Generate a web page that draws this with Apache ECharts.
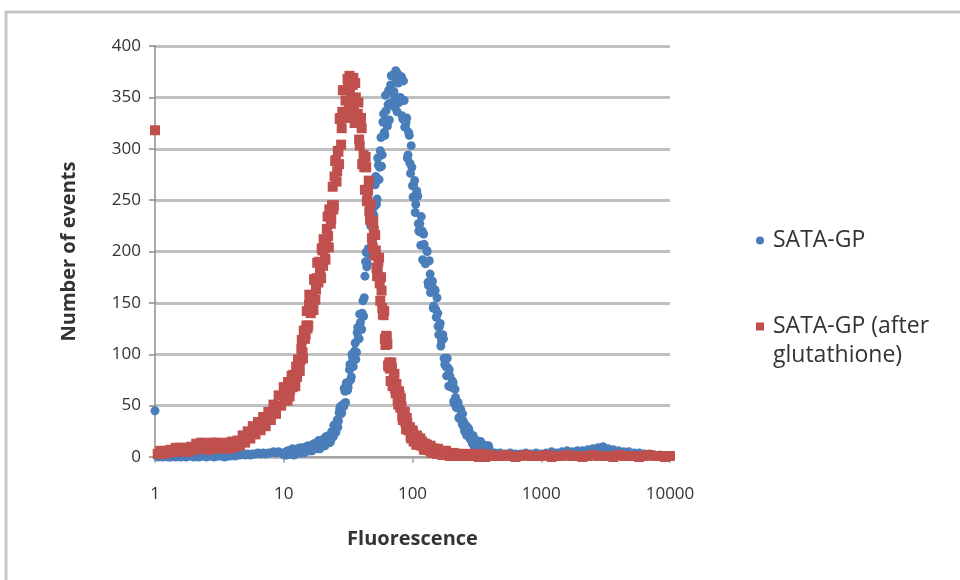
<!DOCTYPE html>
<html>
<head>
<meta charset="utf-8">
<script src="https://cdn.jsdelivr.net/npm/echarts@6/dist/echarts.min.js"></script>
<style>
html,body{margin:0;padding:0;background:#fff;}
#chart{width:960px;height:580px;}
</style>
</head>
<body>
<div id="chart"></div>
<script>
// Fluorescence channel values (x)
const fluorescence = [
  1, 1.05, 1.10, 1.15, 1.20, 1.26, 1.32, 1.38, 1.45, 1.51,
  1.58, 1.66, 1.74, 1.82, 1.91, 2.00, 2.09, 2.19, 2.29, 2.40,
  2.51, 2.63, 2.75, 2.88, 3.02, 3.16, 3.31, 3.47, 3.63, 3.80,
  3.98, 4.17, 4.37, 4.57, 4.79, 5.01, 5.25, 5.50, 5.75, 6.03,
  6.31, 6.61, 6.92, 7.24, 7.59, 7.94, 8.32, 8.71, 9.12, 9.55,
  10, 10.2, 10.5, 10.7, 11.0, 11.2, 11.5, 11.7, 12.0, 12.3,
  12.6, 12.9, 13.2, 13.5, 13.8, 14.1, 14.5, 14.8, 15.1, 15.5,
  15.8, 16.2, 16.6, 17.0, 17.4, 17.8, 18.2, 18.6, 19.1, 19.5,
  20.0, 20.4, 20.9, 21.4, 21.9, 22.4, 22.9, 23.4, 24.0, 24.5,
  25.1, 25.7, 26.3, 26.9, 27.5, 28.2, 28.8, 29.5, 30.2, 30.9,
  31.6, 32.4, 33.1, 33.9, 34.7, 35.5, 36.3, 37.2, 38.0, 38.9,
  39.8, 40.7, 41.7, 42.7, 43.7, 44.7, 45.7, 46.8, 47.9, 49.0,
  50.1, 51.3, 52.5, 53.7, 55.0, 56.2, 57.5, 58.9, 60.3, 61.7,
  63.1, 64.6, 66.1, 67.6, 69.2, 70.8, 72.4, 74.1, 75.9, 77.6,
  79.4, 81.3, 83.2, 85.1, 87.1, 89.1, 91.2, 93.3, 95.5, 97.7,
  100, 102, 105, 107, 110, 112, 115, 117, 120, 123,
  126, 129, 132, 135, 138, 141, 145, 148, 151, 155,
  158, 162, 166, 170, 174, 178, 182, 186, 191, 195,
  200, 204, 209, 214, 219, 224, 229, 234, 240, 245,
  251, 257, 263, 269, 275, 282, 288, 295, 302, 309,
  316, 324, 331, 339, 347, 355, 363, 372, 380, 389,
  398, 437, 479, 525, 575, 631, 692, 759, 832, 912,
  1000, 1096, 1202, 1318, 1445, 1585, 1738, 1905, 2089, 2291,
  2512, 2754, 3020, 3311, 3631, 3981, 4365, 4786, 5248, 5754,
  6310, 6918, 7586, 8318, 9120, 10000
];

// Number of events, SATA-GP
const sataGP = [
  45, 0, 1, 0, 1, 0, 0, 1, 0, 1,
  0, 1, 0, 1, 1, 0, 1, 0, 1, 1,
  0, 1, 1, 0, 1, 1, 1, 0, 1, 1,
  2, 1, 2, 2, 3, 2, 3, 2, 3, 3,
  4, 3, 4, 3, 4, 4, 5, 4, 5, 4,
  3, 4, 2, 5, 6, 3, 4, 8, 2, 6,
  4, 8, 4, 9, 4, 8, 4, 9, 7, 11,
  6, 9, 6, 12, 13, 9, 10, 16, 8, 14,
  12, 17, 11, 20, 14, 19, 14, 23, 20, 31,
  25, 31, 29, 43, 49, 43, 51, 67, 53, 71,
  68, 85, 75, 100, 88, 103, 95, 121, 116, 139,
  125, 140, 137, 176, 199, 188, 203, 232, 204, 237,
  235, 265, 246, 291, 270, 298, 283, 326, 316, 352,
  326, 343, 328, 362, 371, 342, 352, 376, 336, 364,
  346, 369, 332, 366, 321, 326, 291, 316, 286, 303,
  264, 264, 238, 256, 254, 220, 219, 234, 192, 207,
  188, 201, 170, 191, 160, 168, 145, 163, 144, 155,
  127, 127, 108, 118, 115, 90, 88, 96, 69, 79,
  68, 74, 54, 66, 48, 52, 38, 47, 36, 42,
  29, 29, 21, 27, 26, 17, 17, 21, 10, 15,
  11, 15, 8, 15, 7, 11, 5, 11, 7, 11,
  5, 4, 4, 3, 4, 3, 3, 4, 3, 4,
  3, 4, 5, 4, 5, 6, 5, 6, 6, 7,
  8, 9, 10, 8, 7, 6, 5, 5, 4, 4,
  3, 3, 2, 2, 1, 1
];

// Number of events, SATA-GP (after glutathione)
const sataGPGlutathione = [
  318, 3, 6, 3, 6, 4, 7, 5, 9, 5,
  9, 6, 9, 5, 10, 7, 13, 8, 14, 8,
  13, 7, 14, 9, 14, 8, 13, 9, 14, 8,
  15, 10, 16, 11, 21, 14, 25, 18, 30, 22,
  34, 26, 39, 30, 44, 36, 51, 42, 60, 50,
  68, 55, 65, 55, 71, 65, 79, 68, 75, 69,
  87, 95, 84, 94, 114, 96, 120, 119, 142, 128,
  158, 140, 157, 143, 172, 163, 189, 170, 183, 174,
  201, 212, 193, 207, 234, 204, 235, 232, 263, 245,
  288, 268, 298, 285, 330, 320, 357, 331, 347, 330,
  363, 371, 340, 348, 369, 325, 350, 328, 345, 303,
  330, 285, 294, 260, 282, 254, 269, 231, 230, 204,
  220, 216, 184, 183, 194, 152, 162, 139, 142, 109,
  117, 89, 92, 74, 87, 72, 81, 62, 63, 51,
  60, 57, 40, 39, 44, 27, 33, 26, 29, 18,
  26, 15, 19, 12, 19, 14, 18, 11, 12, 7,
  12, 12, 7, 8, 11, 4, 8, 5, 8, 3,
  8, 3, 5, 2, 6, 3, 6, 2, 3, 1,
  3, 2, 4, 1, 2, 3, 1, 3, 2, 2,
  3, 1, 2, 2, 3, 1, 2, 1, 3, 2,
  1, 2, 2, 1, 3, 1, 2, 1, 2, 1,
  2, 1, 1, 2, 1, 0, 1, 2, 1, 1,
  1, 2, 0, 1, 1, 2, 1, 1, 0, 1,
  2, 1, 1, 1, 0, 2, 1, 1, 1, 0,
  1, 2, 1, 1, 0, 1
];

// In-between channels (10 to 394)
const fluorescenceMid = [
  10.1, 10.4, 10.6, 10.8, 11.1, 11.4, 11.6, 11.9, 12.2, 12.5,
  12.7, 13.0, 13.3, 13.7, 14.0, 14.3, 14.6, 15.0, 15.3, 15.7,
  16.0, 16.4, 16.8, 17.2, 17.6, 18.0, 18.4, 18.8, 19.3, 19.7,
  20.2, 20.7, 21.1, 21.6, 22.1, 22.6, 23.2, 23.7, 24.3, 24.8,
  25.4, 26.0, 26.6, 27.2, 27.9, 28.5, 29.2, 29.9, 30.6, 31.3,
  32.0, 32.7, 33.5, 34.3, 35.1, 35.9, 36.7, 37.6, 38.5, 39.4,
  40.3, 41.2, 42.2, 43.2, 44.2, 45.2, 46.2, 47.3, 48.4, 49.6,
  50.7, 51.9, 53.1, 54.3, 55.6, 56.9, 58.2, 59.6, 61.0, 62.4,
  63.8, 65.3, 66.8, 68.4, 70.0, 71.6, 73.3, 75.0, 76.7, 78.5,
  80.4, 82.2, 84.1, 86.1, 88.1, 90.2, 92.3, 94.4, 96.6, 98.9,
  101, 104, 106, 108, 111, 114, 116, 119, 122, 125,
  127, 130, 133, 137, 140, 143, 146, 150, 153, 157,
  160, 164, 168, 172, 176, 180, 184, 188, 193, 197,
  202, 207, 211, 216, 221, 226, 232, 237, 243, 248,
  254, 260, 266, 272, 279, 285, 292, 299, 306, 313,
  320, 327, 335, 343, 351, 359, 367, 376, 385, 394
];

const sataGPMid = [
  2, 5, 3, 6, 3, 5, 3, 6, 7, 4,
  5, 8, 4, 7, 5, 9, 5, 10, 6, 9,
  6, 11, 9, 13, 9, 11, 8, 14, 15, 11,
  13, 18, 12, 18, 16, 21, 16, 25, 20, 28,
  24, 36, 35, 47, 42, 50, 49, 64, 72, 65,
  73, 90, 78, 96, 95, 111, 102, 126, 115, 131,
  124, 152, 155, 190, 185, 202, 197, 225, 239, 228,
  244, 273, 251, 284, 282, 311, 294, 334, 313, 337,
  322, 357, 344, 371, 345, 356, 340, 367, 373, 345,
  350, 370, 329, 347, 322, 330, 294, 313, 276, 282,
  253, 269, 246, 259, 227, 227, 206, 220, 217, 190,
  189, 200, 167, 178, 163, 171, 147, 162, 136, 140,
  119, 130, 113, 119, 96, 94, 79, 87, 85, 69,
  68, 72, 52, 58, 49, 53, 39, 46, 32, 35,
  25, 31, 24, 28, 19, 19, 13, 17, 17, 11,
  12, 15, 8, 11, 9, 11, 7, 11, 6, 8
];

const sataGPGlutathioneMid = [
  67, 57, 62, 73, 59, 71, 68, 80, 70, 88,
  78, 90, 84, 105, 102, 123, 115, 128, 125, 148,
  157, 145, 154, 173, 153, 174, 170, 190, 175, 203,
  186, 203, 192, 222, 215, 241, 227, 245, 241, 273,
  289, 278, 297, 329, 304, 336, 331, 357, 334, 368,
  339, 357, 334, 362, 343, 364, 331, 334, 309, 325,
  320, 285, 282, 292, 249, 260, 239, 246, 213, 229,
  196, 201, 176, 190, 169, 175, 145, 138, 115, 118,
  110, 88, 86, 92, 69, 76, 66, 71, 55, 64,
  48, 49, 36, 43, 34, 38, 27, 27, 20, 24,
  24, 16, 17, 21, 12, 16, 12, 15, 9, 13,
  9, 10, 9, 6, 9, 7, 5, 7, 4, 6,
  4, 5, 3, 4, 3, 4, 2, 3, 3, 2,
  2, 1, 3, 2, 1, 2, 2, 3, 1, 2,
  1, 2, 1, 2, 1, 1, 2, 1, 1, 2,
  1, 0, 1, 1, 2, 1, 0, 1, 1, 1
];

const seriesNames = ['SATA-GP', 'SATA-GP (after glutathione)'];
const yTicks = { min: 0, max: 400, interval: 50 };
const xRange = { min: 1, max: 10000 };

const font = 'Open Sans';
const textColor = '#333333';

function pairs(xs, ys) {
  return xs.map(function (x, i) { return [x, ys[i]]; });
}

const chart = echarts.init(document.getElementById('chart'), null, { renderer: 'canvas' });

const option = {
  animation: false,
  backgroundColor: '#ffffff',
  graphic: [{
    type: 'rect',
    silent: true,
    z: -1,
    shape: { x: 6, y: 12, width: 1000, height: 700 },
    style: { fill: 'none', stroke: '#c6c6c6', lineWidth: 3 }
  }],
  grid: { left: 155, right: 290, top: 46, bottom: 123 },
  legend: {
    orient: 'vertical',
    left: 756,
    top: 226,
    padding: 0,
    itemGap: 28,
    itemWidth: 8,
    itemHeight: 8,
    textStyle: { fontFamily: font, fontSize: 23, color: textColor, lineHeight: 29, padding: [0, 0, 0, 4] },
    formatter: function (name) {
      return name === seriesNames[1] ? '\nSATA-GP (after\nglutathione)' : name;
    },
    data: [
      { name: seriesNames[0], icon: 'circle' },
      { name: seriesNames[1], icon: 'rect' }
    ]
  },
  xAxis: {
    type: 'log',
    logBase: 10,
    min: xRange.min,
    max: xRange.max,
    name: 'Fluorescence',
    nameLocation: 'middle',
    nameGap: 72,
    nameTextStyle: { fontFamily: font, fontWeight: 'bold', fontSize: 20, color: textColor },
    axisLine: { show: true, onZero: false, lineStyle: { color: '#a6a6a6', width: 2 } },
    axisTick: { show: true, length: 6, lineStyle: { color: '#a6a6a6', width: 1.5 } },
    minorTick: { show: false },
    splitLine: { show: false },
    axisLabel: {
      margin: 29, fontSize: 17, fontFamily: font, color: textColor,
      formatter: function (v) { return String(Math.round(v)); }
    }
  },
  yAxis: {
    type: 'value',
    min: yTicks.min,
    max: yTicks.max,
    interval: yTicks.interval,
    name: 'Number of events',
    nameLocation: 'middle',
    nameRotate: 90,
    nameGap: 76,
    nameTextStyle: { fontFamily: font, fontWeight: 'bold', fontSize: 20, color: textColor },
    axisLine: { show: true, lineStyle: { color: '#8c8c8c', width: 1.5 } },
    axisTick: { show: true, length: 6, lineStyle: { color: '#8c8c8c', width: 1.5 } },
    splitLine: { show: true, lineStyle: { color: '#c0c0c0', width: 3 } },
    axisLabel: { margin: 14, fontSize: 17, fontFamily: font, color: textColor }
  },
  series: [
    {
      name: seriesNames[0],
      type: 'scatter',
      symbol: 'circle',
      symbolSize: 9,
      itemStyle: { color: '#4a7ebb', opacity: 1 },
      data: pairs(fluorescence, sataGP).concat(pairs(fluorescenceMid, sataGPMid))
    },
    {
      name: seriesNames[1],
      type: 'scatter',
      symbol: 'rect',
      symbolSize: 10,
      itemStyle: { color: '#c0504d', opacity: 1 },
      data: pairs(fluorescence, sataGPGlutathione).concat(pairs(fluorescenceMid, sataGPGlutathioneMid))
    }
  ]
};

chart.setOption(option);
</script>
</body>
</html>
